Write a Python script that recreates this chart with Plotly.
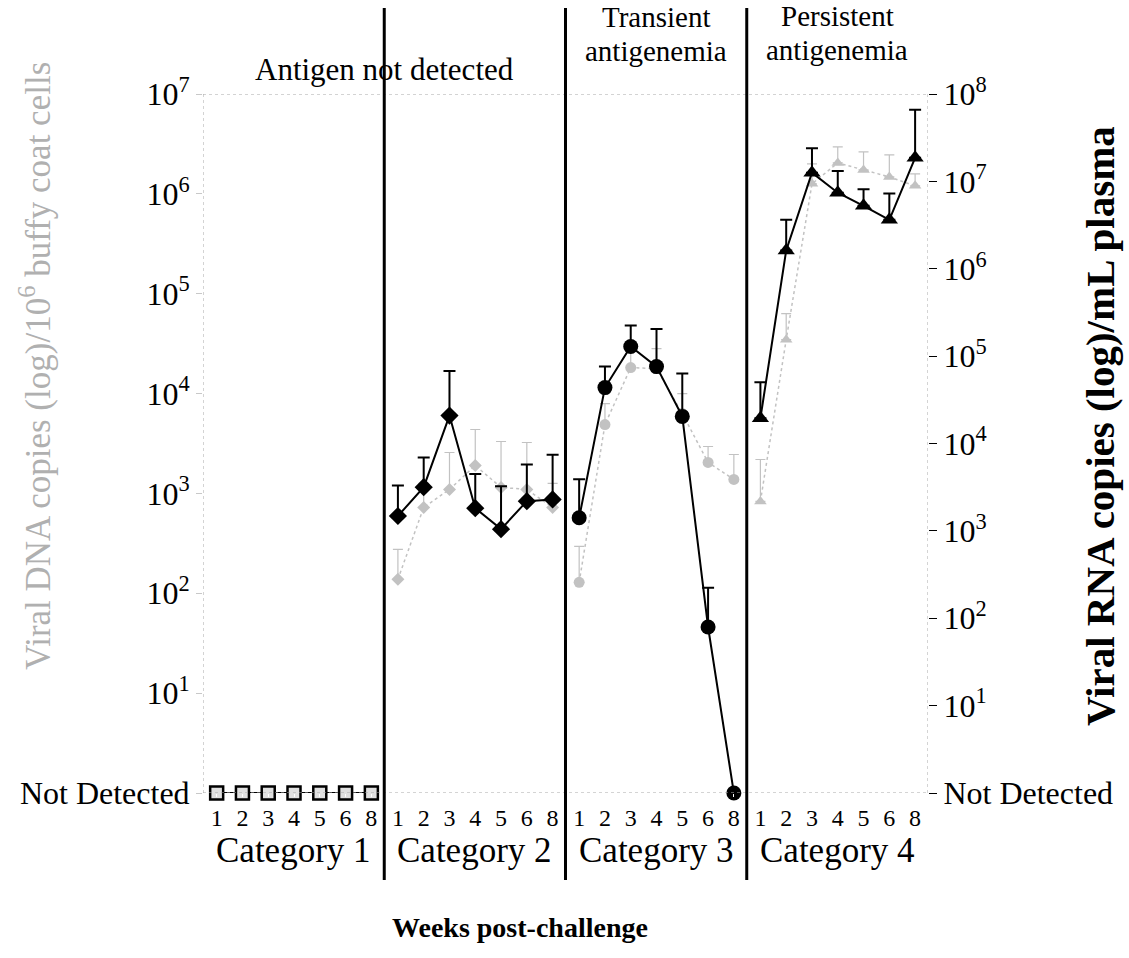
import math
import plotly.graph_objects as go

# Sampling weeks shown under every panel
weeks = ["1", "2", "3", "4", "5", "6", "8"]
categories = ["Category 1", "Category 2", "Category 3", "Category 4"]

# Viral RNA copies per mL plasma, log10 (0 = not detected) - right axis
rna_cat1 = [0, 0, 0, 0, 0, 0, 0]
rna_cat2 = [3.17, 3.50, 4.32, 3.26, 3.02, 3.34, 3.36]
rna_cat3 = [3.15, 4.64, 5.11, 4.88, 4.31, 1.90, 0]
rna_cat4 = [4.29, 6.21, 7.10, 6.87, 6.72, 6.56, 7.27]
# Upper end of the RNA error bars (log10); None = no bar
rna_top_cat2 = [3.52, 3.84, 4.83, 3.65, 3.51, 3.76, 3.87]
rna_top_cat3 = [3.59, 4.88, 5.35, 5.31, 4.80, 2.35, None]
rna_top_cat4 = [4.70, 6.56, 7.38, 7.12, 6.91, 6.86, 7.82]

# Viral DNA copies per 10^6 buffy coat cells, log10 - left axis
dna_cat1 = [0, 0, 0, 0, 0, 0, 0]
dna_cat2 = [2.14, 2.86, 3.04, 3.28, 3.06, 3.04, 2.86]
dna_cat3 = [2.11, 3.69, 4.26, 4.25, 3.80, 3.31, 3.14]
dna_cat4 = [2.92, 4.54, 6.10, 6.31, 6.24, 6.17, 6.08]
dna_top_cat2 = [2.44, 3.10, 3.41, 3.64, 3.52, 3.51, 3.10]
dna_top_cat3 = [2.47, 3.90, 4.45, 4.45, 4.00, 3.47, 3.39]
dna_top_cat4 = [3.34, 4.80, 6.30, 6.47, 6.42, 6.39, 6.20]

left_decades = list(range(0, 8))
right_decades = list(range(0, 9))

PANEL_W = 7.03
OFFSET = 0.53
X_MAX = 4 * PANEL_W
SERIF = "Liberation Serif"
GRAY = "#c2c2c2"
PLOT_TOP, PLOT_H = 94, 699   # pixel top and height of the plotting area

def xpos(panel):
    return [panel * PANEL_W + OFFSET + j for j in range(len(weeks))]

def up_err(vals, tops):
    return [math.nan if t is None else max(t - v, 0) for v, t in zip(vals, tops)]

def py(pixel_y):
    # paper y coordinate for a pixel row
    return (PLOT_TOP + PLOT_H - pixel_y) / PLOT_H

fig = go.Figure()

dna_sets = [(dna_cat1, None), (dna_cat2, dna_top_cat2),
            (dna_cat3, dna_top_cat3), (dna_cat4, dna_top_cat4)]
rna_sets = [(rna_cat1, None), (rna_cat2, rna_top_cat2),
            (rna_cat3, rna_top_cat3), (rna_cat4, rna_top_cat4)]
symbols = ["square", "diamond", "circle", "triangle-up"]
sizes = [13, 14, 15, 15]

# DNA (grey, left axis)
for i, (vals, tops) in enumerate(dna_sets):
    err = None
    if tops is not None:
        err = dict(type="data", symmetric=False, array=up_err(vals, tops),
                   arrayminus=[0] * len(vals), color=GRAY, thickness=1.2, width=5)
    fig.add_trace(go.Scatter(
        x=xpos(i), y=vals, mode="lines+markers", yaxis="y",
        line=dict(color=GRAY, width=1.5, dash="dot"),
        marker=dict(symbol=symbols[i], size=sizes[i] - 4, color=GRAY),
        error_y=err, showlegend=False, cliponaxis=False))

# RNA (black, right axis)
for i, (vals, tops) in enumerate(rna_sets):
    err = None
    if tops is not None:
        err = dict(type="data", symmetric=False, array=up_err(vals, tops),
                   arrayminus=[0] * len(vals), color="black", thickness=2, width=6)
    if i == 0:
        marker = dict(symbol="square", size=sizes[i], color="#e0e0e0",
                      line=dict(color="black", width=2.5))
    else:
        marker = dict(symbol=symbols[i], size=sizes[i], color="black")
    fig.add_trace(go.Scatter(
        x=xpos(i), y=vals, mode="lines+markers", yaxis="y2",
        line=dict(color="black", width=2), marker=marker,
        error_y=err, showlegend=False, cliponaxis=False))

tick_x = [x for i in range(4) for x in xpos(i)]
tick_t = weeks * 4

def dec_label(n):
    return "Not Detected" if n == 0 else f"10<sup>{n}</sup>"

fig.update_layout(
    width=1129, height=958,
    margin=dict(l=203, r=201, t=94, b=165),
    paper_bgcolor="white", plot_bgcolor="white",
    font=dict(family=SERIF, color="black"),
    xaxis=dict(range=[0, X_MAX], tickvals=tick_x, ticktext=tick_t,
               showgrid=False, zeroline=False, showline=False,
               ticks="outside", ticklen=3, tickcolor="white",
               tickfont=dict(family=SERIF, size=24)),
    yaxis=dict(range=[0, 7], tickvals=left_decades,
               ticktext=[dec_label(n) for n in left_decades],
               showgrid=False, zeroline=False, showline=False,
               ticks="outside", ticklen=6, tickcolor="#c8c8c8",
               tickfont=dict(family=SERIF, size=32)),
    yaxis2=dict(range=[0, 8], tickvals=right_decades,
                ticktext=[dec_label(n) for n in right_decades],
                overlaying="y", side="right",
                showgrid=False, zeroline=False, showline=False,
                ticks="outside", ticklen=8, tickcolor="black",
                tickfont=dict(family=SERIF, size=32)),
)

shapes = []
# dotted frame lines
dot = dict(color="#a8a8a8", width=1, dash="dot")
shapes.append(dict(type="line", xref="x", yref="y", x0=0, x1=X_MAX, y0=7, y1=7, line=dot))
shapes.append(dict(type="line", xref="x", yref="y", x0=0, x1=X_MAX, y0=0, y1=0, line=dot))
shapes.append(dict(type="line", xref="x", yref="paper", x0=0, x1=0, y0=0, y1=1, line=dot))
shapes.append(dict(type="line", xref="x", yref="paper", x0=X_MAX, x1=X_MAX, y0=0, y1=1, line=dot))
# panel dividers
for i in range(1, 4):
    shapes.append(dict(type="line", xref="x", yref="paper",
                       x0=i * PANEL_W, x1=i * PANEL_W, y0=py(880), y1=py(8),
                       line=dict(color="black", width=3)))
fig.update_layout(shapes=shapes)

ann = []
for i, cat in enumerate(categories):
    ann.append(dict(x=(i + 0.5) * PANEL_W, xref="x", y=py(850), yref="paper",
                    yanchor="middle", text=cat, showarrow=False, font=dict(size=35)))
ann.append(dict(x=PANEL_W, xref="x", y=py(70), yref="paper", yanchor="middle",
                text="Antigen not detected", showarrow=False, font=dict(size=31)))
for text, px_y in (("Transient", 17), ("antigenemia", 51)):
    ann.append(dict(x=2.5 * PANEL_W, xref="x", y=py(px_y), yref="paper",
                    yanchor="middle", text=text, showarrow=False, font=dict(size=29)))
for text, px_y in (("Persistent", 16), ("antigenemia", 50)):
    ann.append(dict(x=3.5 * PANEL_W, xref="x", y=py(px_y), yref="paper",
                    yanchor="middle", text=text, showarrow=False, font=dict(size=29)))
ann.append(dict(x=0.437, xref="paper", y=py(928), yref="paper", yanchor="middle",
                text="<b>Weeks post-challenge</b>", showarrow=False, font=dict(size=28)))
ann.append(dict(x=(35 - 203) / 725, xref="paper", y=py(366), yref="paper",
                xanchor="center", yanchor="middle", textangle=-90,
                text="Viral DNA copies (log)/10<sup>6</sup> buffy coat cells",
                showarrow=False, font=dict(size=35, color="#b0b0b0")))
ann.append(dict(x=(1100 - 203) / 725, xref="paper", y=py(426), yref="paper",
                xanchor="center", yanchor="middle", textangle=-90,
                text="<b>Viral RNA copies (log)/mL plasma</b>",
                showarrow=False, font=dict(size=41)))
fig.update_layout(annotations=ann)

fig.write_html("out.html")
